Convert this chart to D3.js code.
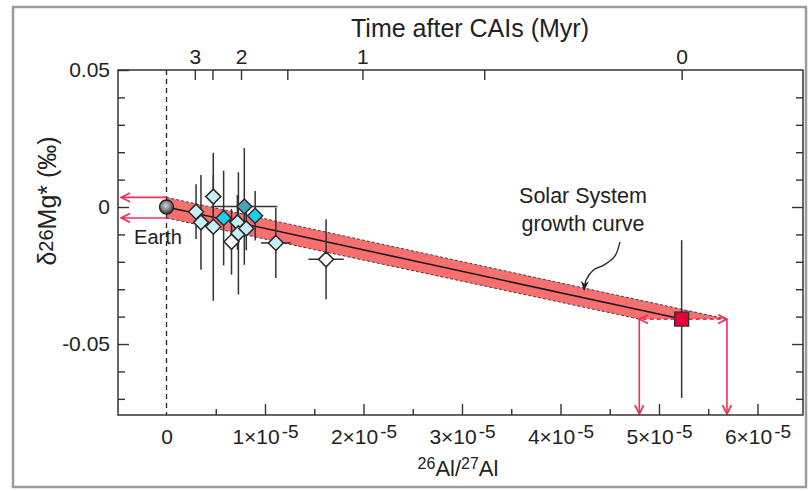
<!DOCTYPE html>
<html lang="en">
<head>
<meta charset="UTF-8">
<title>Solar System Al-Mg growth curve</title>
<script src="https://cdn.jsdelivr.net/npm/d3@7"></script>
<style>
  body { margin: 0; background: #fff; }
  svg text { font-family: "Liberation Sans", Arial, Helvetica, sans-serif; fill: #222; }
</style>
</head>
<body>
<svg id="chart" width="809" height="491"></svg>
<script>

// ---- data (26Al/27Al, delta26Mg* in permil) ----
var xTicks = [0, 0.5e-5, 1e-5, 1.5e-5, 2e-5, 2.5e-5, 3e-5, 3.5e-5, 4e-5, 4.5e-5, 5e-5, 5.5e-5, 6e-5];
var xTickLabels = ["0", "1", "2", "3", "4", "5", "6"];       // mantissa of n x 10^-5
var yTicks = [0.04, 0.03, 0.02, 0.01, 0, -0.01, -0.02, -0.03, -0.04, -0.05, -0.06, -0.07];
var yTickLabels = ["0.05", "0", "-0.05"];
var timeTicks = [0, 0.5, 1, 1.5, 2, 2.5, 3];                  // Myr after CAIs
var timeTickLabels = ["0", "1", "2", "3"];

var ptX    = [0.30e-5, 0.35e-5, 0.475e-5, 0.475e-5, 0.58e-5, 0.66e-5, 0.72e-5, 0.73e-5, 0.79e-5, 0.81e-5, 0.90e-5, 1.11e-5, 1.62e-5];
var ptY    = [-0.0017, -0.0056, 0.0038, -0.0072, -0.0040, -0.0127, -0.0056, -0.0096, 0.0002, -0.0078, -0.0032, -0.0131, -0.0191];
var ptErrY = [0.010, 0.0173, 0.008, 0.027, 0.0173, 0.012, 0.010, 0.0223, 0.0213, 0.008, 0.009, 0.0128, 0.0146];
var ptErrX = [0, 0, 0, 0, 0, 0, 0, 0, 0.335e-5, 0, 0, 0.15e-5, 0.18e-5];
var ptType = ["light", "light", "light", "light", "cyan", "white", "light", "light", "teal", "light", "cyan", "light", "white"];

var earth = [0, 0];
var cai = [5.23e-5, -0.0409];       // canonical CAI value
var caiErrY = 0.0288;
var halfLife = 0.717;               // Myr

// growth curve band: upper edge / lower edge
var bandTop = [[0, 0.0035], [5.69e-5, -0.0409]];
var bandBottom = [[0, -0.0040], [4.80e-5, -0.0409]];

// annotation arrow (data coords)
var noteArrow = [[4.604e-5, -0.0127], [4.55e-5, -0.0180], [4.44e-5, -0.0212], [4.34e-5, -0.0228], [4.26e-5, -0.0266], [4.24e-5, -0.0303]];

var fills = { light: "#c6eff8", cyan: "#1fcdee", teal: "#4aa3b4", white: "#ffffff" };

var svg = d3.select("#chart");
var mL = 118, mR = 803, mT = 70, mB = 415;

var x = d3.scaleLinear().domain([-0.4924e-5, 6.462e-5]).range([mL, mR]);
var y = d3.scaleLinear().domain([-0.0759, 0.05]).range([mB, mT]);

// outer frame
svg.append("rect")
  .attr("x", 13).attr("y", 7).attr("width", 793).attr("height", 480)
  .attr("fill", "none").attr("stroke", "#9b9b9b").attr("stroke-width", 2.5);

// markers
var defs = svg.append("defs");
defs.append("marker").attr("id", "redhead")
  .attr("viewBox", "0 0 10 10").attr("refX", 9).attr("refY", 5)
  .attr("markerWidth", 11).attr("markerHeight", 11).attr("markerUnits", "userSpaceOnUse")
  .attr("orient", "auto")
  .append("path").attr("d", "M1,1 L9,5 L1,9").attr("fill", "none")
  .attr("stroke", "#f0305a").attr("stroke-width", 1.6);
defs.append("marker").attr("id", "blackhead")
  .attr("viewBox", "0 0 10 10").attr("refX", 9).attr("refY", 5)
  .attr("markerWidth", 10).attr("markerHeight", 10).attr("markerUnits", "userSpaceOnUse")
  .attr("orient", "auto")
  .append("path").attr("d", "M0,1 L10,5 L0,9 L3,5 Z").attr("fill", "#222");
var grad = defs.append("radialGradient").attr("id", "earthgrad")
  .attr("cx", "45%").attr("cy", "40%").attr("r", "60%");
grad.append("stop").attr("offset", "0%").attr("stop-color", "#d8d8d8");
grad.append("stop").attr("offset", "100%").attr("stop-color", "#3a3a3a");

// band
var band = bandTop.concat(bandBottom.slice().reverse());
svg.append("path")
  .attr("d", d3.line().x(function(d) { return x(d[0]); }).y(function(d) { return y(d[1]); })(band) + "Z")
  .attr("fill", "#f86f6f");
[bandTop, bandBottom].forEach(function(edge) {
  svg.append("line")
    .attr("x1", x(edge[0][0])).attr("y1", y(edge[0][1]))
    .attr("x2", x(edge[1][0])).attr("y2", y(edge[1][1]))
    .attr("stroke", "#444").attr("stroke-width", 1).attr("stroke-dasharray", "3,2");
});

// growth curve
svg.append("line")
  .attr("x1", x(earth[0])).attr("y1", y(earth[1]))
  .attr("x2", x(cai[0])).attr("y2", y(cai[1]))
  .attr("stroke", "#1a1a1a").attr("stroke-width", 1.6);

// dashed x = 0
svg.append("line")
  .attr("x1", x(0)).attr("x2", x(0)).attr("y1", mT).attr("y2", mB)
  .attr("stroke", "#222").attr("stroke-width", 1.3).attr("stroke-dasharray", "5,4");

// red arrows
var red = "#f0305a";
[bandTop[0][1], bandBottom[0][1]].forEach(function(v) {
  svg.append("line")
    .attr("x1", x(0)).attr("y1", y(v)).attr("x2", x(-0.46e-5)).attr("y2", y(v))
    .attr("stroke", red).attr("stroke-width", 1.6).attr("marker-end", "url(#redhead)");
});
[bandBottom[1][0], bandTop[1][0]].forEach(function(v) {
  svg.append("line")
    .attr("x1", x(cai[0])).attr("y1", y(cai[1])).attr("x2", x(v)).attr("y2", y(cai[1]))
    .attr("stroke", red).attr("stroke-width", 1.6).attr("stroke-dasharray", "4,3")
    .attr("marker-end", "url(#redhead)");
  svg.append("line")
    .attr("x1", x(v)).attr("y1", y(cai[1])).attr("x2", x(v)).attr("y2", mB - 1)
    .attr("stroke", red).attr("stroke-width", 1.6).attr("marker-end", "url(#redhead)");
});

// error bars
var pts = ptX.map(function(d, i) {
  return { x: d, y: ptY[i], ey: ptErrY[i], ex: ptErrX[i], type: ptType[i] };
});
var eb = svg.append("g").attr("stroke", "#333").attr("stroke-width", 1.5);
pts.forEach(function(p) {
  eb.append("line").attr("x1", x(p.x)).attr("x2", x(p.x))
    .attr("y1", y(p.y + p.ey)).attr("y2", y(p.y - p.ey));
  if (p.ex > 0) {
    eb.append("line").attr("y1", y(p.y)).attr("y2", y(p.y))
      .attr("x1", x(p.x - p.ex)).attr("x2", x(p.x + p.ex));
  }
});
eb.append("line").attr("x1", x(cai[0])).attr("x2", x(cai[0]))
  .attr("y1", y(cai[1] + caiErrY)).attr("y2", y(cai[1] - caiErrY));

// diamonds
svg.append("g").selectAll(".dia")
  .data(pts)
  .enter().append("path")
  .attr("class", "dia")
  .attr("d", "M0,-7.5 L7.5,0 L0,7.5 L-7.5,0 Z")
  .attr("transform", function(d) { return "translate(" + x(d.x) + "," + y(d.y) + ")"; })
  .attr("fill", function(d) { return fills[d.type]; })
  .attr("stroke", "#2a2a2a").attr("stroke-width", 1.5);

// Earth
svg.append("circle")
  .attr("cx", x(earth[0])).attr("cy", y(earth[1])).attr("r", 7)
  .attr("fill", "url(#earthgrad)").attr("stroke", "#222").attr("stroke-width", 1.3);

// CAI square
svg.append("rect")
  .attr("x", x(cai[0]) - 7).attr("y", y(cai[1]) - 7).attr("width", 14).attr("height", 14)
  .attr("fill", "#e3003c").attr("stroke", "#333").attr("stroke-width", 1.3);

// annotation
svg.append("path")
  .attr("d", d3.line().curve(d3.curveCatmullRom)
    .x(function(d) { return x(d[0]); }).y(function(d) { return y(d[1]); })(noteArrow))
  .attr("fill", "none").attr("stroke", "#222").attr("stroke-width", 1.3)
  .attr("marker-end", "url(#blackhead)");
svg.append("text").attr("x", 583).attr("y", 203).attr("text-anchor", "middle")
  .style("font-size", "21.5px").text("Solar System");
svg.append("text").attr("x", 583).attr("y", 231).attr("text-anchor", "middle")
  .style("font-size", "21.5px").text("growth curve");
svg.append("text").attr("x", 158).attr("y", 244).attr("text-anchor", "middle")
  .style("font-size", "20px").text("Earth");

// ---- axes ----
function styleAxis(g) {
  g.select(".domain").remove();
  g.selectAll(".tick line").attr("stroke", "#333").attr("stroke-width", 1.4);
  g.selectAll(".tick text").style("font-size", "21px").attr("fill", "#222");
}

// bottom
var isMajorX = function(d) { return Math.abs(d / 1e-5 - Math.round(d / 1e-5)) < 1e-6; };
var gB = svg.append("g").attr("transform", "translate(0," + mB + ")")
  .call(d3.axisBottom(x).tickValues(xTicks).tickSizeOuter(0).tickSizeInner(0).tickPadding(14)
    .tickFormat(function(d) { return isMajorX(d) ? xTickLabels[Math.round(d / 1e-5)] : ""; }))
  .call(styleAxis);
gB.selectAll(".tick line").attr("y2", function(d) { return isMajorX(d) ? -11 : -6; })
  .style("display", function(d) { return d === 0 ? "none" : null; });
gB.selectAll(".tick text").each(function(d) {
  if (d === 0 || !isMajorX(d)) return;
  var t = d3.select(this), m = t.text();
  t.text(null);
  t.append("tspan").text(m + "\u00d710");
  t.append("tspan").attr("dx", "2").attr("dy", "-6").style("font-size", "19px").text("-5");
});

// top
var r0 = cai[0], tau = halfLife / Math.LN2;
var topR = timeTicks.map(function(t) { return r0 * Math.exp(-t / tau); });
var gT = svg.append("g").attr("transform", "translate(0," + mT + ")")
  .call(d3.axisTop(x).tickValues(topR).tickSizeOuter(0).tickSizeInner(0).tickPadding(6)
    .tickFormat(function(d, i) { return timeTicks[i] % 1 === 0 ? timeTickLabels[timeTicks[i]] : ""; }))
  .call(styleAxis);
gT.selectAll(".tick line").attr("y2", 10);

// left & right
var isMajorY = function(d) { return Math.abs(d / 0.05 - Math.round(d / 0.05)) < 1e-6; };
var gL = svg.append("g").attr("transform", "translate(" + mL + ",0)")
  .call(d3.axisLeft(y).tickValues([0.05].concat(yTicks)).tickSizeOuter(0).tickSizeInner(0).tickPadding(8)
    .tickFormat(function(d) { return isMajorY(d) ? yTickLabels[Math.round((0.05 - d) / 0.05)] : ""; }))
  .call(styleAxis);
gL.selectAll(".tick line").attr("x2", function(d) { return isMajorY(d) ? 11 : 7; });
var gR = svg.append("g").attr("transform", "translate(" + mR + ",0)")
  .call(d3.axisRight(y).tickValues(yTicks).tickSizeOuter(0).tickSizeInner(0).tickFormat(""))
  .call(styleAxis);
gR.selectAll(".tick line").attr("x2", function(d) { return isMajorY(d) ? -11 : -7; });

// plot border
svg.append("rect")
  .attr("x", mL).attr("y", mT).attr("width", mR - mL).attr("height", mB - mT)
  .attr("fill", "none").attr("stroke", "#333").attr("stroke-width", 1.5);

// axis titles
svg.append("text").attr("x", 470).attr("y", 37).attr("text-anchor", "middle")
  .style("font-size", "25px").text("Time after CAIs (Myr)");

var xt = svg.append("text").attr("x", 458).attr("y", 476).attr("text-anchor", "middle")
  .style("font-size", "22px");
xt.append("tspan").attr("dy", "-7").style("font-size", "16px").text("26");
xt.append("tspan").attr("dy", "7").text("Al/");
xt.append("tspan").attr("dy", "-7").style("font-size", "16px").text("27");
xt.append("tspan").attr("dy", "7").text("Al");

var yt = svg.append("text").attr("text-anchor", "middle")
  .attr("transform", "translate(56,201) rotate(-90)")
  .style("font-size", "25px");
yt.append("tspan").text("\u03b4");
yt.append("tspan").attr("dy", "-3").style("font-size", "20px").text("26");
yt.append("tspan").attr("dy", "3").text("Mg* (\u2030)");

</script>
</body>
</html>
